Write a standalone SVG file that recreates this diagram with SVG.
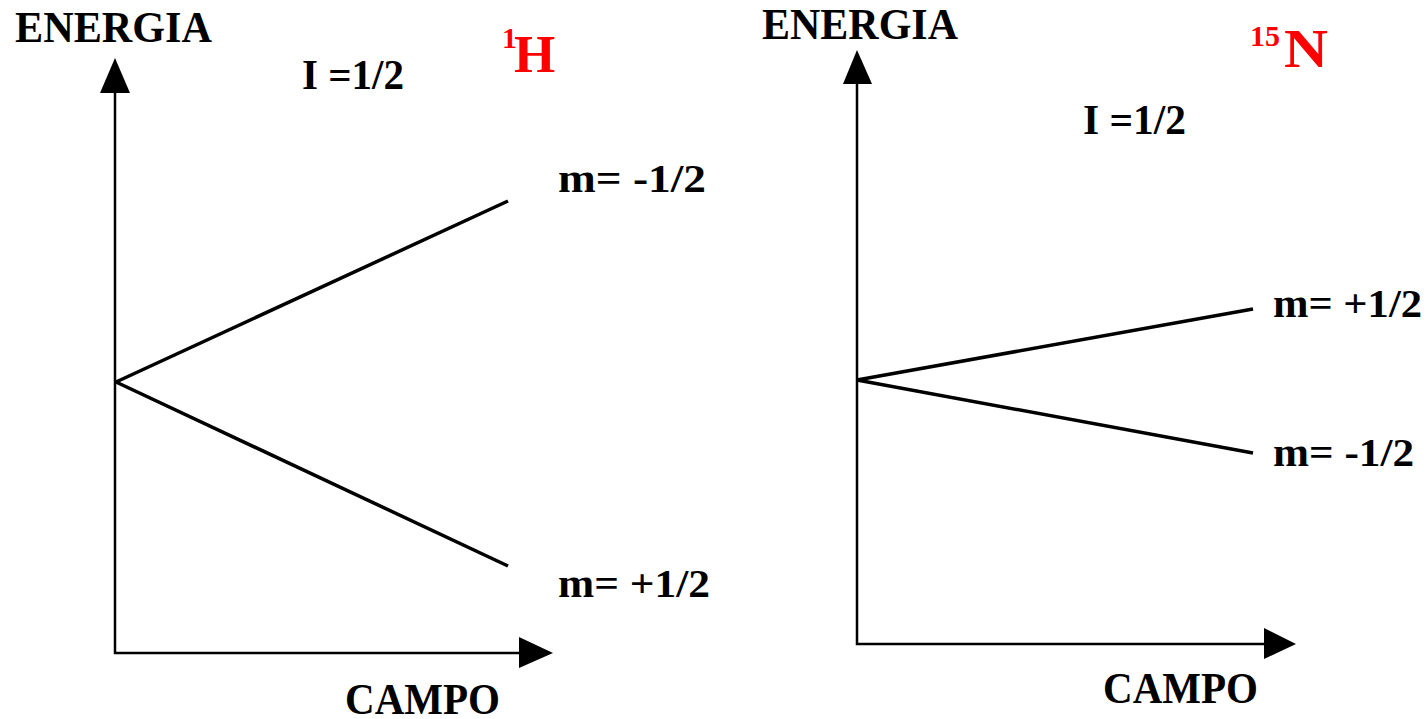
<svg xmlns="http://www.w3.org/2000/svg" width="1427" height="719" viewBox="0 0 1427 719">
<style>
.t{font-family:"Liberation Serif","Times New Roman",serif;font-weight:bold;fill:#000}
.r{fill:#ff0000}
.ax{stroke:#000;stroke-width:2.5;fill:none}
.ln{stroke:#000;stroke-width:3.5;fill:none;stroke-linecap:butt}
.ah{fill:#000}
</style>
<rect width="1427" height="719" fill="#fff"/>
<g id="left-panel">
  <g id="left-axes">
    <polyline class="ax" points="115,90 115,653 521,653"/>
    <polygon class="ah" points="115,58 100,93 130,93"/>
    <polygon class="ah" points="553,653 519,637 519,668"/>
  </g>
  <g id="left-labels">
    <text class="t" x="15" y="42" font-size="44" textLength="197" lengthAdjust="spacingAndGlyphs">ENERGIA</text>
    <text class="t" x="302" y="89" font-size="42" textLength="102" lengthAdjust="spacingAndGlyphs">I =1/2</text>
    <text class="t r" x="502" y="48" font-size="30">1</text>
    <text class="t r" x="514" y="72" font-size="53">H</text>
    <text class="t" x="558" y="192" font-size="40" textLength="148" lengthAdjust="spacingAndGlyphs">m= -1/2</text>
    <text class="t" x="558" y="597" font-size="40" textLength="152" lengthAdjust="spacingAndGlyphs">m= +1/2</text>
    <text class="t" x="345" y="714" font-size="44" textLength="155" lengthAdjust="spacingAndGlyphs">CAMPO</text>
  </g>
</g>
<g id="right-panel">
  <g id="right-axes">
    <polyline class="ax" points="857,80 857,644 1266,644"/>
    <polygon class="ah" points="857,50 843,84 872,84"/>
    <polygon class="ah" points="1296,644 1264,628 1264,659"/>
  </g>
  <g id="right-labels">
    <text class="t" x="762" y="39" font-size="44" textLength="196" lengthAdjust="spacingAndGlyphs">ENERGIA</text>
    <text class="t r" x="1250" y="46" font-size="30">15</text>
    <text class="t r" x="1284" y="67" font-size="54" textLength="44" lengthAdjust="spacingAndGlyphs">N</text>
    <text class="t" x="1083" y="134" font-size="42" textLength="103" lengthAdjust="spacingAndGlyphs">I =1/2</text>
    <text class="t" x="1273" y="317" font-size="40" textLength="149" lengthAdjust="spacingAndGlyphs">m= +1/2</text>
    <text class="t" x="1273" y="466" font-size="40" textLength="141" lengthAdjust="spacingAndGlyphs">m= -1/2</text>
    <text class="t" x="1103" y="703" font-size="44" textLength="155" lengthAdjust="spacingAndGlyphs">CAMPO</text>
  </g>
</g>
<g id="connectors">
  <line class="ln" x1="116" y1="382" x2="508" y2="201"/>
  <line class="ln" x1="116" y1="382" x2="508" y2="566"/>
  <line class="ln" x1="857" y1="380" x2="1253" y2="309"/>
  <line class="ln" x1="857" y1="380" x2="1253" y2="453"/>
</g>
</svg>
